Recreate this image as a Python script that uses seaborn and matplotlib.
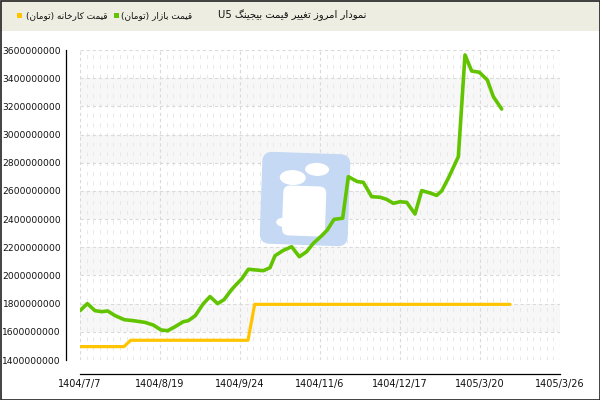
import numpy as np
import pandas as pd
import matplotlib
matplotlib.use("Agg")
import matplotlib.pyplot as plt
import seaborn as sns
from matplotlib.ticker import MultipleLocator, FuncFormatter, FixedLocator
from matplotlib.patches import FancyBboxPatch, Ellipse, Rectangle
import matplotlib.transforms as mtransforms

# ---------------- data ----------------
x_tick_labels = ['1404/7/7', '1404/8/19', '1404/9/24', '1404/11/6',
                 '1404/12/17', '1405/3/20', '1405/3/26']
x_tick_pos = [0, 12, 24, 36, 48, 60, 72]

market_x = [0, 1.1, 2.25, 3.25, 4.15, 5.25, 6.65, 8, 9.75, 11,
            12.15, 13.15, 14.25, 15.5, 16.25, 17.3, 18.5, 19.5, 20.65, 21.6,
            22.75, 23.5, 24.25, 25.25, 26.35, 27.5, 28.5, 29.25, 30.5, 31.75,
            32.9, 34, 35, 36.25, 37.1, 38.1, 39.4, 40.25, 41.6, 42.5,
            43.75, 45, 46, 47, 48, 49, 50.25, 51.25, 52.4, 53.5,
            54.25, 55.25, 56.75, 57.75, 58.75, 59.9, 61.1, 62, 63.25]
market_price_m = [1750, 1800, 1750, 1743, 1748, 1715, 1686, 1679, 1667, 1648,
                  1613, 1608, 1636, 1672, 1679, 1715, 1800, 1850, 1800, 1828,
                  1900, 1939, 1975, 2044, 2039, 2034, 2055, 2140, 2178, 2204,
                  2133, 2169, 2228, 2282, 2323, 2398, 2406, 2701, 2666, 2661,
                  2559, 2555, 2540, 2512, 2523, 2519, 2436, 2602, 2587, 2568,
                  2600, 2690, 2843, 3565, 3451, 3442, 3387, 3269, 3181]

factory_x = [0, 6.6, 7.6, 25.2, 26.2, 64.5]
factory_price_m = [1495, 1495, 1540, 1540, 1795, 1795]

title_text = 'نمودار امروز تغییر قیمت بیجینگ U5'
market_label = 'قیمت بازار (تومان)'
factory_label = 'قیمت کارخانه (تومان)'

# ---------------- minimal Persian shaping for matplotlib ----------------
FORMS = {
    'ا': ('\uFE8D', '\uFE8E', None, None),
    'ب': ('\uFE8F', '\uFE90', '\uFE91', '\uFE92'),
    'ت': ('\uFE95', '\uFE96', '\uFE97', '\uFE98'),
    'ج': ('\uFE9D', '\uFE9E', '\uFE9F', '\uFEA0'),
    'خ': ('\uFEA5', '\uFEA6', '\uFEA7', '\uFEA8'),
    'د': ('\uFEA9', '\uFEAA', None, None),
    'ر': ('\uFEAD', '\uFEAE', None, None),
    'ز': ('\uFEAF', '\uFEB0', None, None),
    'غ': ('\uFECD', '\uFECE', '\uFECF', '\uFED0'),
    'ق': ('\uFED5', '\uFED6', '\uFED7', '\uFED8'),
    'ک': ('\uFB8E', '\uFB8F', '\uFB90', '\uFB91'),
    'گ': ('\uFB92', '\uFB93', '\uFB94', '\uFB95'),
    'م': ('\uFEE1', '\uFEE2', '\uFEE3', '\uFEE4'),
    'ن': ('\uFEE5', '\uFEE6', '\uFEE7', '\uFEE8'),
    'ه': ('\uFEE9', '\uFEEA', '\uFEEB', '\uFEEC'),
    'و': ('\uFEED', '\uFEEE', None, None),
    'ی': ('\uFBFC', '\uFBFD', '\uFBFE', '\uFBFF'),
}


def rtl(s):
    chars = list(s)
    out = []
    for i, c in enumerate(chars):
        if c not in FORMS:
            out.append(c)
            continue
        prev = chars[i - 1] if i > 0 else None
        nxt = chars[i + 1] if i + 1 < len(chars) else None
        pj = prev in FORMS and FORMS[prev][2] is not None
        nj = nxt in FORMS and FORMS[c][2] is not None
        iso, fin, ini, med = FORMS[c]
        if pj and nj:
            out.append(med)
        elif pj:
            out.append(fin)
        elif nj:
            out.append(ini)
        else:
            out.append(iso)
    vis = out[::-1]
    mirror = {'(': ')', ')': '('}
    vis = [mirror.get(c, c) for c in vis]
    res, run = [], []
    for c in vis:
        if c.isascii() and c.isalnum():
            run.append(c)
        else:
            if run:
                res.extend(run[::-1]); run = []
            res.append(c)
    if run:
        res.extend(run[::-1])
    return ''.join(res)


# ---------------- figure ----------------
sns.set_style('white')
plt.rcParams['font.family'] = ['DejaVu Sans']

W, H = 600, 400
fig = plt.figure(figsize=(6, 4), dpi=100)
fig.patch.set_facecolor('white')

ax = fig.add_axes([80 / W, 1 - 360 / H, 480 / W, 310 / H])
ax.patch.set_facecolor('white')

df_m = pd.DataFrame({'x': market_x, 'price': np.array(market_price_m) * 1e6})
df_f = pd.DataFrame({'x': factory_x, 'price': np.array(factory_price_m) * 1e6})

ax.set_xlim(0, 72)
ax.set_ylim(1400e6, 3600e6)

# alternating bands
yt = np.arange(1400e6, 3600e6 + 1, 200e6)
for k in range(1, len(yt) - 1, 2):
    ax.axhspan(yt[k], yt[k + 1], color='#F7F7F7', zorder=0.5, lw=0)

ax.xaxis.set_major_locator(FixedLocator(x_tick_pos))
ax.set_xticklabels(x_tick_labels)
ax.xaxis.set_minor_locator(MultipleLocator(1))
ax.yaxis.set_major_locator(MultipleLocator(200e6))
ax.yaxis.set_minor_locator(MultipleLocator(100e6))
ax.yaxis.set_major_formatter(FuncFormatter(lambda v, p: '%d' % round(v)))

ax.grid(which='major', axis='both', color='#DADADA', linestyle=(0, (3, 2.5)), lw=0.8)
ax.grid(which='minor', axis='x', color='#E8E8E8', linestyle=(0, (4, 6)), lw=0.7)
ax.set_axisbelow(True)

# watermark logo (decorative), in pixel coordinates, between grid and lines
pix = (mtransforms.Affine2D().rotate_deg_around(305, 200, 2)
       .scale(1 / W, -1 / H).translate(0, 1) + fig.transFigure)
ax.add_patch(FancyBboxPatch((261, 153), 88, 92, boxstyle='round,pad=0,rounding_size=10',
                            fc='#C5D9F4', ec='none', transform=pix, zorder=2))
ax.add_patch(Ellipse((292, 178), 26, 15, fc='white', ec='none', transform=pix, zorder=2.1))
ax.add_patch(Ellipse((316, 169), 24, 13, fc='white', ec='none', transform=pix, zorder=2.1))
ax.add_patch(FancyBboxPatch((283, 186), 43, 50, boxstyle='round,pad=0,rounding_size=7',
                            fc='white', ec='none', transform=pix, zorder=2.1))
ax.add_patch(Ellipse((284, 223), 14, 9, fc='white', ec='none', transform=pix, zorder=2.1))

sns.lineplot(data=df_f, x='x', y='price', ax=ax, color='#FFC400', lw=2.3,
             estimator=None, sort=False, zorder=4)
sns.lineplot(data=df_m, x='x', y='price', ax=ax, color='#62C400', lw=2.6,
             estimator=None, sort=False, zorder=5)
ax.set_xlabel('')
ax.set_ylabel('')

for s in ['top', 'right']:
    ax.spines[s].set_visible(False)
for s in ['left', 'bottom']:
    ax.spines[s].set_position(('outward', 10))
    ax.spines[s].set_color('black')
    ax.spines[s].set_linewidth(0.9)

ax.tick_params(axis='y', which='major', length=2.3, width=0.9, color='black',
               labelsize=6.6, pad=1.4, labelcolor='#111111', direction='out')
ax.tick_params(axis='y', which='minor', length=2.0, width=0.9, color='#DD0000', direction='out')
ax.tick_params(axis='x', which='major', length=5, width=0.9, color='black',
               labelsize=7.0, pad=1.2, labelcolor='#111111', direction='inout')
ax.tick_params(axis='x', which='minor', length=2, width=0.6, color='#444444', direction='out')

# header
hdr = fig.add_axes([0, 0, 1, 1], zorder=20)
hdr.set_xlim(0, W)
hdr.set_ylim(H, 0)
hdr.axis('off')
hdr.patch.set_alpha(0)
hdr.add_patch(Rectangle((0, 0), W, 30.5, fc='#EDEDE1', ec='none'))
hdr.add_patch(Rectangle((0.5, 0.5), W - 1, H - 1, fc='none', ec='#222222', lw=1.2))
hdr.add_patch(Rectangle((17, 13), 5, 5, fc='#FFC400', ec='none'))
hdr.add_patch(Rectangle((114, 13), 5, 5, fc='#62C400', ec='none'))
hdr.text(107, 15.5, rtl(factory_label), fontsize=6.4, ha='right', va='center', color='#111111')
hdr.text(192, 15.5, rtl(market_label), fontsize=6.4, ha='right', va='center', color='#111111')
hdr.text(366, 15.5, rtl(title_text), fontsize=7.2, ha='right', va='center', color='#111111')

fig.savefig('out.png', dpi=100)
